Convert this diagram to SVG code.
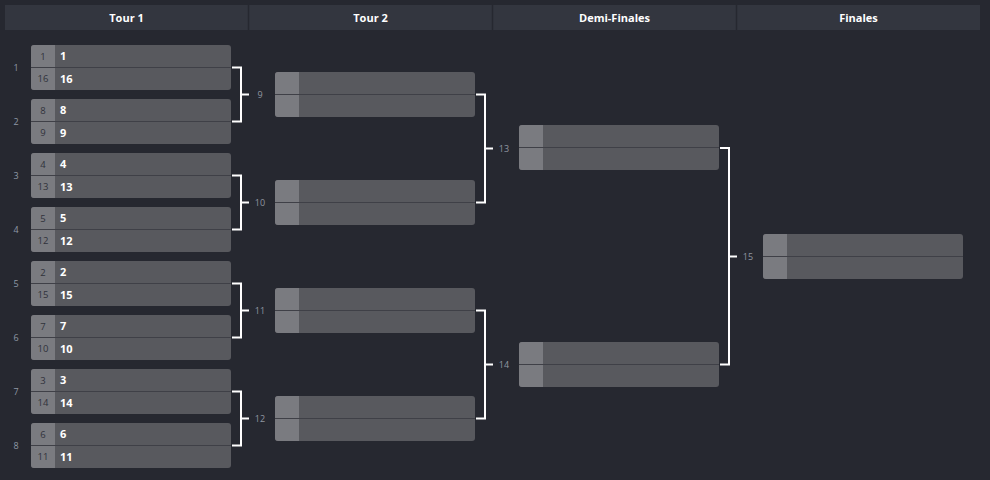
<svg xmlns="http://www.w3.org/2000/svg" width="990" height="480" viewBox="0 0 990 480">
<defs>
<style>
.hdr{fill:#33363f}
.sep{stroke:#262830;stroke-width:1.5}
.ht{font-family:"Open Sans",sans-serif;font-size:11px;font-weight:bold;fill:#ffffff;text-anchor:middle}
.box{fill:#58595e}
.seedc{fill:#7a7b80}
.div{stroke:#3f4047;stroke-width:1.2}
.sd{font-family:"Open Sans",sans-serif;font-size:9.5px;fill:#30323b;text-anchor:middle}
.tm{font-family:"Open Sans",sans-serif;font-size:11px;font-weight:bold;fill:#ffffff}
.lb{font-family:"Open Sans",sans-serif;font-size:9px;fill:#8e98a6;text-anchor:middle}
.lbm{font-family:"Open Sans",sans-serif;font-size:9px;fill:#9096a0;text-anchor:middle}
.br{fill:none;stroke:#ffffff;stroke-width:2}
</style>
<clipPath id="c"><rect x="0" y="0" width="200" height="45" rx="3"/></clipPath>
<g id="m">
<g clip-path="url(#c)">
<rect class="box" x="0" y="0" width="200" height="45"/>
<rect class="seedc" x="0" y="0" width="24" height="45"/>
</g>
<line class="div" x1="0" y1="22.5" x2="200" y2="22.5"/>
</g>
</defs>
<rect width="990" height="480" fill="#262830"/>
<g id="header">
<rect class="hdr" x="5" y="5" width="975" height="25"/>
<line class="sep" x1="248.5" y1="5" x2="248.5" y2="30"/>
<line class="sep" x1="492.5" y1="5" x2="492.5" y2="30"/>
<line class="sep" x1="736.5" y1="5" x2="736.5" y2="30"/>
<text class="ht" x="126.5" y="21.5">Tour 1</text>
<text class="ht" x="370.5" y="21.5">Tour 2</text>
<text class="ht" x="614.5" y="21.5">Demi-Finales</text>
<text class="ht" x="858.5" y="21.5">Finales</text>
</g>
<g id="round1">
<g id="match1"><use href="#m" x="31" y="45"/><text class="lb" x="16" y="71">1</text><text class="sd" x="43" y="59.5">1</text><text class="tm" x="60" y="60">1</text><text class="sd" x="43" y="82">16</text><text class="tm" x="60" y="82.5">16</text></g>
<g id="match2"><use href="#m" x="31" y="99"/><text class="lb" x="16" y="125">2</text><text class="sd" x="43" y="113.5">8</text><text class="tm" x="60" y="114">8</text><text class="sd" x="43" y="136">9</text><text class="tm" x="60" y="136.5">9</text></g>
<g id="match3"><use href="#m" x="31" y="153"/><text class="lb" x="16" y="179">3</text><text class="sd" x="43" y="167.5">4</text><text class="tm" x="60" y="168">4</text><text class="sd" x="43" y="190">13</text><text class="tm" x="60" y="190.5">13</text></g>
<g id="match4"><use href="#m" x="31" y="207"/><text class="lb" x="16" y="233">4</text><text class="sd" x="43" y="221.5">5</text><text class="tm" x="60" y="222">5</text><text class="sd" x="43" y="244">12</text><text class="tm" x="60" y="244.5">12</text></g>
<g id="match5"><use href="#m" x="31" y="261"/><text class="lb" x="16" y="287">5</text><text class="sd" x="43" y="275.5">2</text><text class="tm" x="60" y="276">2</text><text class="sd" x="43" y="298">15</text><text class="tm" x="60" y="298.5">15</text></g>
<g id="match6"><use href="#m" x="31" y="315"/><text class="lb" x="16" y="341">6</text><text class="sd" x="43" y="329.5">7</text><text class="tm" x="60" y="330">7</text><text class="sd" x="43" y="352">10</text><text class="tm" x="60" y="352.5">10</text></g>
<g id="match7"><use href="#m" x="31" y="369"/><text class="lb" x="16" y="395">7</text><text class="sd" x="43" y="383.5">3</text><text class="tm" x="60" y="384">3</text><text class="sd" x="43" y="406">14</text><text class="tm" x="60" y="406.5">14</text></g>
<g id="match8"><use href="#m" x="31" y="423"/><text class="lb" x="16" y="449">8</text><text class="sd" x="43" y="437.5">6</text><text class="tm" x="60" y="438">6</text><text class="sd" x="43" y="460">11</text><text class="tm" x="60" y="460.5">11</text></g>
</g>
<g id="round2">
<g id="match9"><use href="#m" x="275" y="72"/></g>
<g id="match10"><use href="#m" x="275" y="180"/></g>
<g id="match11"><use href="#m" x="275" y="288"/></g>
<g id="match12"><use href="#m" x="275" y="396"/></g>
</g>
<g id="semis">
<g id="match13"><use href="#m" x="519" y="125"/></g>
<g id="match14"><use href="#m" x="519" y="342"/></g>
</g>
<g id="final">
<g id="match15"><use href="#m" x="763" y="234"/></g>
</g>
<g id="connectors">
<path class="br" d="M232 67.5H241V121.5H232M241 94.5H249"/>
<path class="br" d="M232 175.5H241V229.5H232M241 202.5H249"/>
<path class="br" d="M232 283.5H241V337.5H232M241 310.5H249"/>
<path class="br" d="M232 391.5H241V445.5H232M241 418.5H249"/>
<path class="br" d="M476 94.5H485V202.5H476M485 148.5H493"/>
<path class="br" d="M476 310.5H485V418.5H476M485 364.5H493"/>
<path class="br" d="M720 148H729V364.5H720M729 256.5H737"/>
</g>
<g id="labels">
<text class="lbm" x="260" y="97.5">9</text>
<text class="lbm" x="260" y="205.5">10</text>
<text class="lbm" x="260" y="313.5">11</text>
<text class="lbm" x="260" y="421.5">12</text>
<text class="lbm" x="504" y="151.5">13</text>
<text class="lbm" x="504" y="367.5">14</text>
<text class="lbm" x="748" y="259.5">15</text>
</g>
</svg>
